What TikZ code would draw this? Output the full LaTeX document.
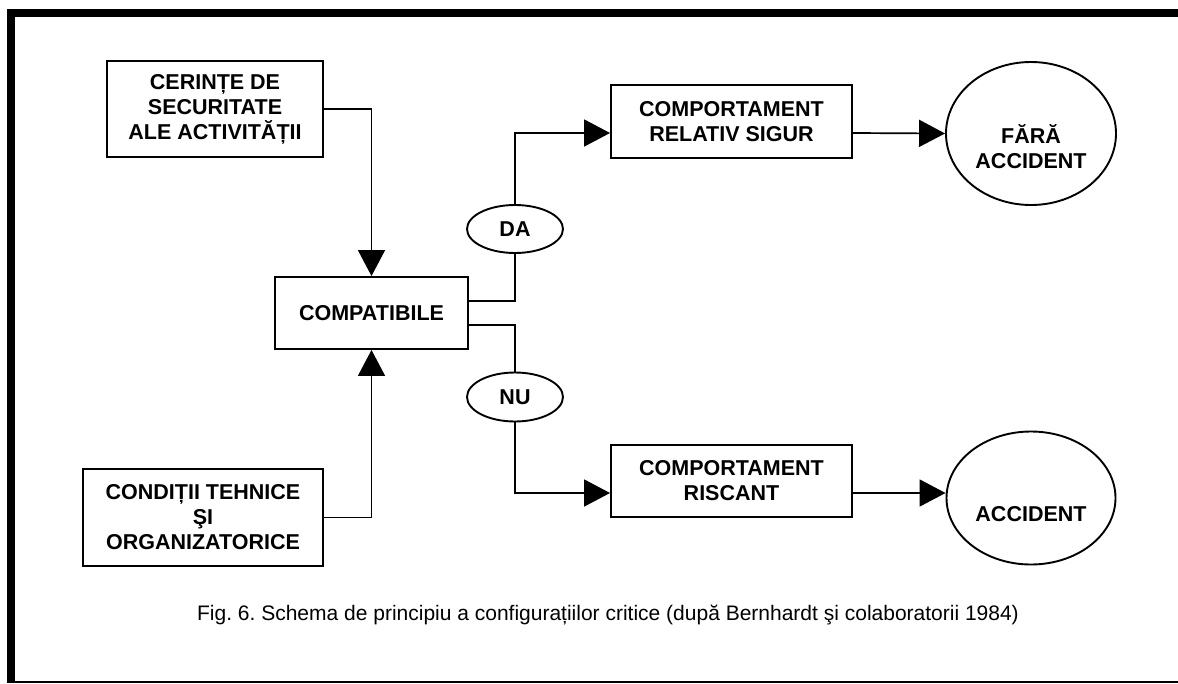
\documentclass[tikz,border=0pt]{standalone}
\usepackage{fontspec}
\setmainfont{Liberation Sans}
\usepackage{tikz}
\usetikzlibrary{arrows.meta}
\usetikzlibrary{shapes.geometric}
\tikzset{box/.style = {draw, line width=1.9pt, align=center, inner sep=0pt,
                       font=\fontsize{21.5}{25}\selectfont\bfseries},
         oval/.style = {box, ellipse},
         link/.style = {line width=1.7pt},
         flow/.style = {link, -{Triangle[length=26pt, width=27pt]}}}
\frenchspacing

\begin{document}
\begin{tikzpicture}[x=1pt, y=-1pt]
      \useasboundingbox (0, 0) rectangle (1178, 683);
      \draw [line width=8pt] (1178, 13) -- (11, 13) -- (11, 683);
      \draw [line width=2pt] (7, 681.5) -- (1178, 681.5);
      \node [box, minimum width=216pt, minimum height=96pt] (demands) at (215, 109) {CERINȚE DE\\SECURITATE\\ALE ACTIVITĂȚII};
      \node [box, minimum width=240pt, minimum height=97pt] (conditions) at (203, 517.5) {CONDIȚII TEHNICE\\ŞI\\ORGANIZATORICE};
      \node [box, minimum width=193pt, minimum height=72pt] (compatible) at (371.5, 313) {COMPATIBILE};
      \node [oval, minimum width=96pt, minimum height=48pt] (yes) at (515, 229) {DA};
      \node [oval, minimum width=96pt, minimum height=49pt] (no) at (515, 397) {NU};
      \node [box, minimum width=241pt, minimum height=73pt] (safe) at (731.5, 121.5) {COMPORTAMENT\\RELATIV SIGUR};
      \node [box, minimum width=241pt, minimum height=72pt] (risky) at (731.5, 481) {COMPORTAMENT\\RISCANT};
      \node [oval, minimum width=170pt, minimum height=143pt] (noaccident) at (1031, 133.5) {};
      \node [oval, minimum width=169pt, minimum height=133pt] (accident) at (1031, 498) {};
      \node [box, draw=none] (noaccidentlabel) at (1031, 147) {FĂRĂ\\ACCIDENT};
      \node [box, draw=none] (accidentlabel) at (1031, 514) {ACCIDENT};
      \node [anchor=base, font=\fontsize{21}{25}\selectfont] (caption) at (608, 620) {Fig. 6. Schema de principiu a configurațiilor critice (după Bernhardt şi colaboratorii 1984)};
      \draw [flow] (demands.east) -| (compatible.north);
      \draw [flow] (conditions.east) -| (compatible.south);
      \draw [link] ([yshift=12pt]compatible.east) -| (yes.south);
      \draw [link] ([yshift=-12pt]compatible.east) -| (no.north);
      \draw [flow] (yes.north) |- ([yshift=-11.5pt]safe.west);
      \draw [flow] (no.south) |- ([yshift=-12pt]risky.west);
      \draw [flow] ([yshift=-11.5pt]safe.east) -- (noaccident.west);
      \draw [flow] ([yshift=-12pt]risky.east) -- ([yshift=5pt]accident.west);
\end{tikzpicture}
\end{document}
